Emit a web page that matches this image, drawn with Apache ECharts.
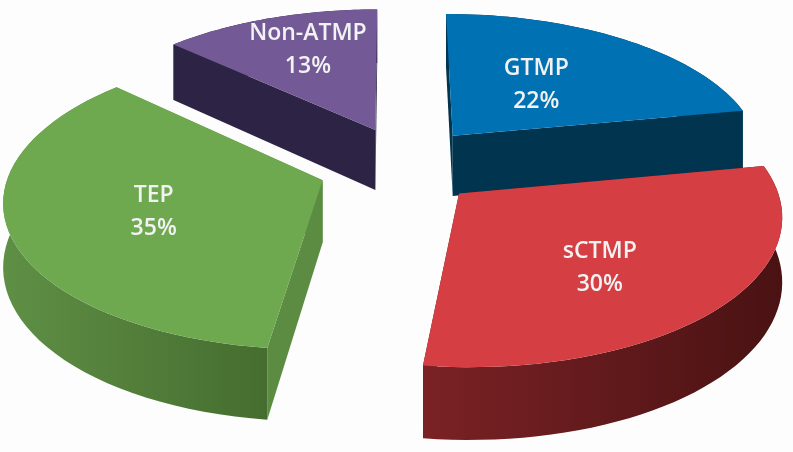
<!DOCTYPE html>
<html>
<head>
<meta charset="utf-8">
<style>html,body{margin:0;padding:0;background:#fdfdfd}#main{width:793px;height:452px}</style>
<script src="https://cdn.jsdelivr.net/npm/echarts@6/dist/echarts.min.js"></script>
</head>
<body>
<div id="main"></div>
<script>
// clockwise from 12 o'clock
const categories = ['GTMP', 'sCTMP', 'TEP', 'Non-ATMP'];
const shares = [22, 30, 35, 13];

// look of each slice, same order as categories
const topColors = ['#0071b3', '#d53f44', '#6ea94f', '#735a96'];
const edgeColors = ['#00344f', '#5c1618', '#5c8c42', '#2d2445'];
const rimColors = [
    ['#00344f', '#00344f'],
    ['#7a2225', '#4a1213'],
    ['#5f8f45', '#456d2f'],
    ['#2d2445', '#2d2445']
];
// pulled-out offset and label offset of each slice, in disc radii
const pullOut = [[0.2, 0.223], [0.21, -0.18], [-0.22, -0.09], [-0.055, 0.265]];
const labelOffset = [[0.298, 0.388], [0.402, -0.463], [-0.515, -0.21], [-0.245, 0.637]];
const paintOrder = [1, 2, 3, 0]; // z position per slice

// tilted disc, rough perspective
const view = { cx: 392, cy: 167, rx: 312, ry: 144.4, persp: 0.126, depth: 62 };

function project(wx, wy, down) {
    const s = 1 / (1 + view.persp * wy);
    return [
        view.cx + view.rx * wx * s,
        view.cy - view.ry * wy * s + (down ? view.depth * s : 0)
    ];
}

const total = shares.reduce((a, b) => a + b, 0);

function renderSlice(params, api) {
    const i = params.dataIndex;
    let before = 0;
    for (let k = 0; k < i; k++) before += shares[k];
    const a0 = before / total * Math.PI * 2;
    const a1 = (before + api.value(0)) / total * Math.PI * 2;
    const mid = (a0 + a1) / 2;
    const ox = pullOut[i][0];
    const oy = pullOut[i][1];

    const arc = [];
    const steps = 48;
    for (let k = 0; k <= steps; k++) {
        const t = a0 + (a1 - a0) * k / steps;
        arc.push([ox + Math.sin(t), oy + Math.cos(t)]);
    }
    const arcTop = arc.map(p => project(p[0], p[1], false));
    const arcLow = arc.map(p => project(p[0], p[1], true));
    const apexTop = project(ox, oy, false);
    const apexLow = project(ox, oy, true);

    const poly = (points, fill, z2) => ({
        type: 'polygon',
        shape: { points: points },
        style: { fill: fill, stroke: null },
        z2: z2
    });
    const rimFill = {
        type: 'linear', x: 0, y: 0, x2: 1, y2: 0,
        colorStops: [
            { offset: 0, color: rimColors[i][0] },
            { offset: 1, color: rimColors[i][1] }
        ]
    };
    const base = paintOrder[i] * 10;
    const front = Math.cos(mid) < 0;
    const rimZ = base + (front ? 2 : 0);
    const wallZ = base + (front ? 0 : 2);

    const children = [
        poly(arcTop.concat(arcLow.slice().reverse()), rimFill, rimZ),
        poly([apexTop, arcTop[0], arcLow[0], apexLow], edgeColors[i], wallZ),
        poly([apexTop, arcTop[steps], arcLow[steps], apexLow], edgeColors[i], wallZ),
        poly([apexTop].concat(arcTop), topColors[i], base + 4)
    ];
    const lp = project(ox + labelOffset[i][0], oy + labelOffset[i][1], false);
    children.push({
        type: 'text',
        z2: 100,
        style: {
            x: lp[0],
            y: lp[1],
            text: categories[i] + '\n' + api.value(0) + '%',
            fill: '#f2f2f2',
            font: '600 23px "Open Sans"',
            lineHeight: 33,
            align: 'center',
            verticalAlign: 'middle'
        }
    });
    return { type: 'group', children: children };
}

const myChart = echarts.init(document.getElementById('main'));
myChart.setOption({
    backgroundColor: '#fdfdfd',
    animation: false,
    series: [{
        type: 'custom',
        coordinateSystem: 'none',
        renderItem: renderSlice,
        data: shares.map(v => [v])
    }]
});
</script>
</body>
</html>
